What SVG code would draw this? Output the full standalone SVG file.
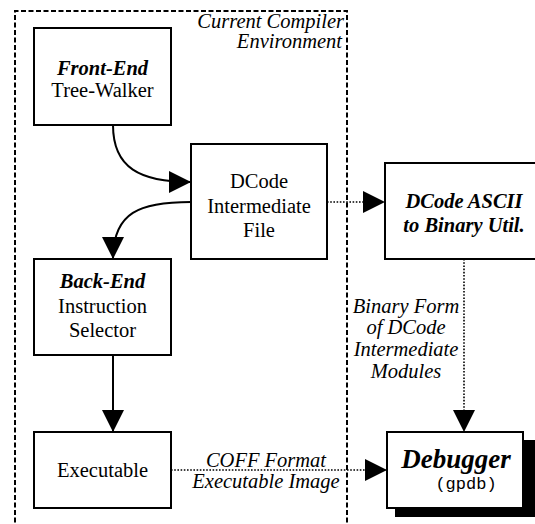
<svg xmlns="http://www.w3.org/2000/svg" width="535" height="524" viewBox="0 0 535 524" font-family="'Liberation Serif', Tinos, 'Nimbus Roman', 'Times New Roman', Times, FreeSerif, 'DejaVu Serif', serif">
  <defs>
    <marker id="arrow" markerUnits="userSpaceOnUse" markerWidth="22" markerHeight="22" viewBox="0 0 22 22" refX="22" refY="11" orient="auto">
      <path d="M0,0 L22,11 L0,22 Z" fill="#000"/>
    </marker>
    <style>
      text { font-family: "Liberation Serif", Tinos, "Nimbus Roman", "Times New Roman", Times, FreeSerif, "DejaVu Serif", serif; font-size: 20.5px; fill: #000; }
      .box { fill: #fff; stroke: #000; stroke-width: 2; }
      .bi { font-weight: bold; font-style: italic; }
      .it { font-style: italic; }
      .mid { text-anchor: middle; }
      .solid { fill: none; stroke: #000; stroke-width: 2; }
      .dot { fill: none; stroke: #000; stroke-width: 1.6; stroke-dasharray: 1.6 1.6; }
      .env { fill: none; stroke: #000; stroke-width: 2; stroke-dasharray: 5 2.5; }
      .mono { font-family: "Liberation Mono", "Courier New", monospace; font-size: 17px; }
    </style>
  </defs>

  <rect width="535" height="524" fill="#fff"/>

  <!-- compiler environment boundary -->
  <g id="environment">
    <path class="env" d="M347,560 L347,11 L15,11 L15,560"/>
    <text class="it" x="344" y="28" text-anchor="end">Current Compiler</text>
    <text class="it" x="342" y="48" text-anchor="end">Environment</text>
  </g>

  <!-- connectors -->
  <g id="connectors">
    <path class="solid" d="M113,125 C113,168 140,182 191,182" marker-end="url(#arrow)"/>
    <path class="solid" d="M191,202 C140,202 113,212 113,259" marker-end="url(#arrow)"/>
    <path class="solid" d="M113,355 L113,432" marker-end="url(#arrow)"/>
    <path class="dot" d="M327,202 L385,202" marker-end="url(#arrow)"/>
    <path class="dot" d="M464,259 L464,432" marker-end="url(#arrow)"/>
    <path class="dot" d="M171,470 L387,470" marker-end="url(#arrow)"/>
    <g id="binary-label" class="it mid">
      <text x="406" y="313">Binary Form</text>
      <text x="406" y="334">of DCode</text>
      <text x="406" y="356">Intermediate</text>
      <text x="406" y="378">Modules</text>
    </g>
    <g id="coff-label" class="it mid">
      <text x="266" y="467">COFF Format</text>
      <text x="266" y="488">Executable Image</text>
    </g>
  </g>

  <g id="front-end">
    <rect class="box" x="34" y="28" width="137" height="97"/>
    <text class="bi mid" x="102.5" y="75">Front-End</text>
    <text class="mid" x="102.5" y="97">Tree-Walker</text>
  </g>

  <g id="dcode-file">
    <rect class="box" x="191" y="144" width="136" height="115"/>
    <text class="mid" x="259" y="188">DCode</text>
    <text class="mid" x="259" y="213">Intermediate</text>
    <text class="mid" x="259" y="237">File</text>
  </g>

  <g id="ascii-to-binary">
    <rect class="box" x="385" y="163" width="158" height="96"/>
    <text class="bi mid" x="464" y="208">DCode ASCII</text>
    <text class="bi mid" x="464" y="232">to Binary Util.</text>
  </g>

  <g id="back-end">
    <rect class="box" x="34" y="259" width="137" height="96"/>
    <text class="bi mid" x="102.5" y="288">Back-End</text>
    <text class="mid" x="102.5" y="313">Instruction</text>
    <text class="mid" x="102.5" y="337">Selector</text>
  </g>

  <g id="executable">
    <rect class="box" x="34" y="432" width="137" height="76"/>
    <text class="mid" x="102.5" y="477">Executable</text>
  </g>

  <g id="debugger">
    <rect x="395" y="440" width="140" height="77" fill="#000"/>
    <rect class="box" x="387" y="432" width="136" height="76"/>
    <text class="bi mid" x="456" y="468" font-size="27" style="font-size:27px">Debugger</text>
    <text class="mid mono" x="466" y="489">(gpdb)</text>
  </g>
</svg>
